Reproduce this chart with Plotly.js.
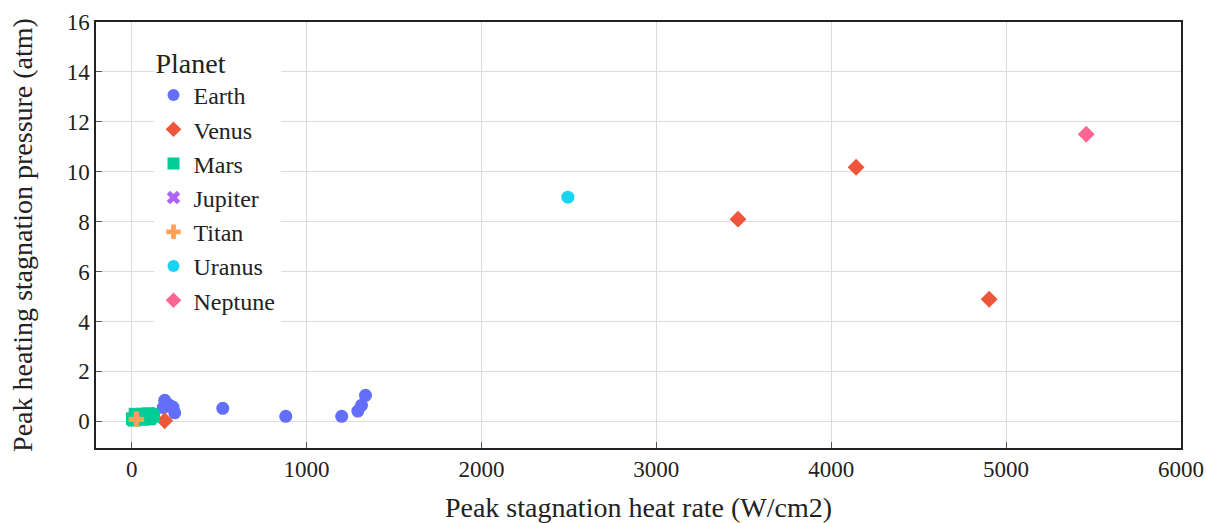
<!DOCTYPE html>
<html><head><meta charset="utf-8">
<script src="https://cdn.plot.ly/plotly-3.0.1.min.js"></script>
<style>body{margin:0;background:#fff}#chart{width:1206px;height:523px}</style>
</head><body><div id="chart"></div>
<script>
const earthX = [189, 180, 217, 236, 246, 120, 521, 881, 1201, 1293, 1314, 1337];
const earthY = [0.84, 0.55, 0.64, 0.57, 0.34, 0.30, 0.52, 0.20, 0.20, 0.41, 0.64, 1.04];
const venusX = [189, 3467, 4142, 4903];
const venusY = [0.02, 8.1, 10.18, 4.89];
const marsX = [5, 15, 25, 35, 45, 55, 65, 75, 85, 95, 105, 115, 125, 20, 60, 100];
const marsY = [0.10, 0.05, 0.20, 0.12, 0.25, 0.15, 0.28, 0.18, 0.22, 0.30, 0.16, 0.26, 0.20, 0.28, 0.08, 0.10];
const jupiterX = [null];
const jupiterY = [null];
const titanX = [27];
const titanY = [0.08];
const uranusX = [2494];
const uranusY = [8.98];
const neptuneX = [5458];
const neptuneY = [11.5];

function tr(name, x, y, color, symbol) {
  return {type: 'scatter', mode: 'markers', name: name, x: x, y: y,
    marker: {color: color, symbol: symbol, size: 13}};
}
const data = [
  tr('Earth', earthX, earthY, '#636efa', 'circle'),
  tr('Venus', venusX, venusY, '#EF553B', 'diamond'),
  tr('Mars', marsX, marsY, '#00cc96', 'square'),
  tr('Jupiter', jupiterX, jupiterY, '#ab63fa', 'x'),
  tr('Titan', titanX, titanY, '#FFA15A', 'cross'),
  tr('Uranus', uranusX, uranusY, '#19d3f3', 'circle'),
  tr('Neptune', neptuneX, neptuneY, '#FF6692', 'diamond')
];
const font = 'Liberation Serif, Times New Roman, serif';
const layout = {
  width: 1206, height: 523,
  margin: {l: 96, r: 25, t: 22, b: 75},
  paper_bgcolor: '#fff', plot_bgcolor: '#fff',
  font: {family: font, size: 23, color: '#222'},
  xaxis: {
    range: [-204, 6000], dtick: 1000, tick0: 0,
    title: {text: 'Peak stagnation heat rate (W/cm2)', font: {size: 28}, standoff: 18},
    showgrid: true, gridcolor: '#dcdcdc', gridwidth: 1, zeroline: false,
    showline: true, linecolor: '#222', linewidth: 1.5, mirror: true,
    ticks: 'inside', ticklen: 6, tickcolor: '#555',
    tickfont: {size: 23}
  },
  yaxis: {
    range: [-1.07, 16], dtick: 2, tick0: 0,
    title: {text: 'Peak heating stagnation pressure (atm)', font: {size: 28}, standoff: 26},
    showgrid: true, gridcolor: '#dcdcdc', gridwidth: 1, zeroline: false,
    showline: true, linecolor: '#222', linewidth: 1.5, mirror: true,
    ticks: 'inside', ticklen: 6, tickcolor: '#555',
    tickfont: {size: 23}
  },
  legend: {
    x: 0.053, y: 0.966, xanchor: 'left', yanchor: 'top',
    bgcolor: 'rgba(255,255,255,0.9)',
    title: {text: 'Planet', font: {size: 28}},
    font: {size: 24}, itemsizing: 'constant'
  },
  showlegend: true
};
Plotly.newPlot('chart', data, layout, {displayModeBar: false});
</script></body></html>
